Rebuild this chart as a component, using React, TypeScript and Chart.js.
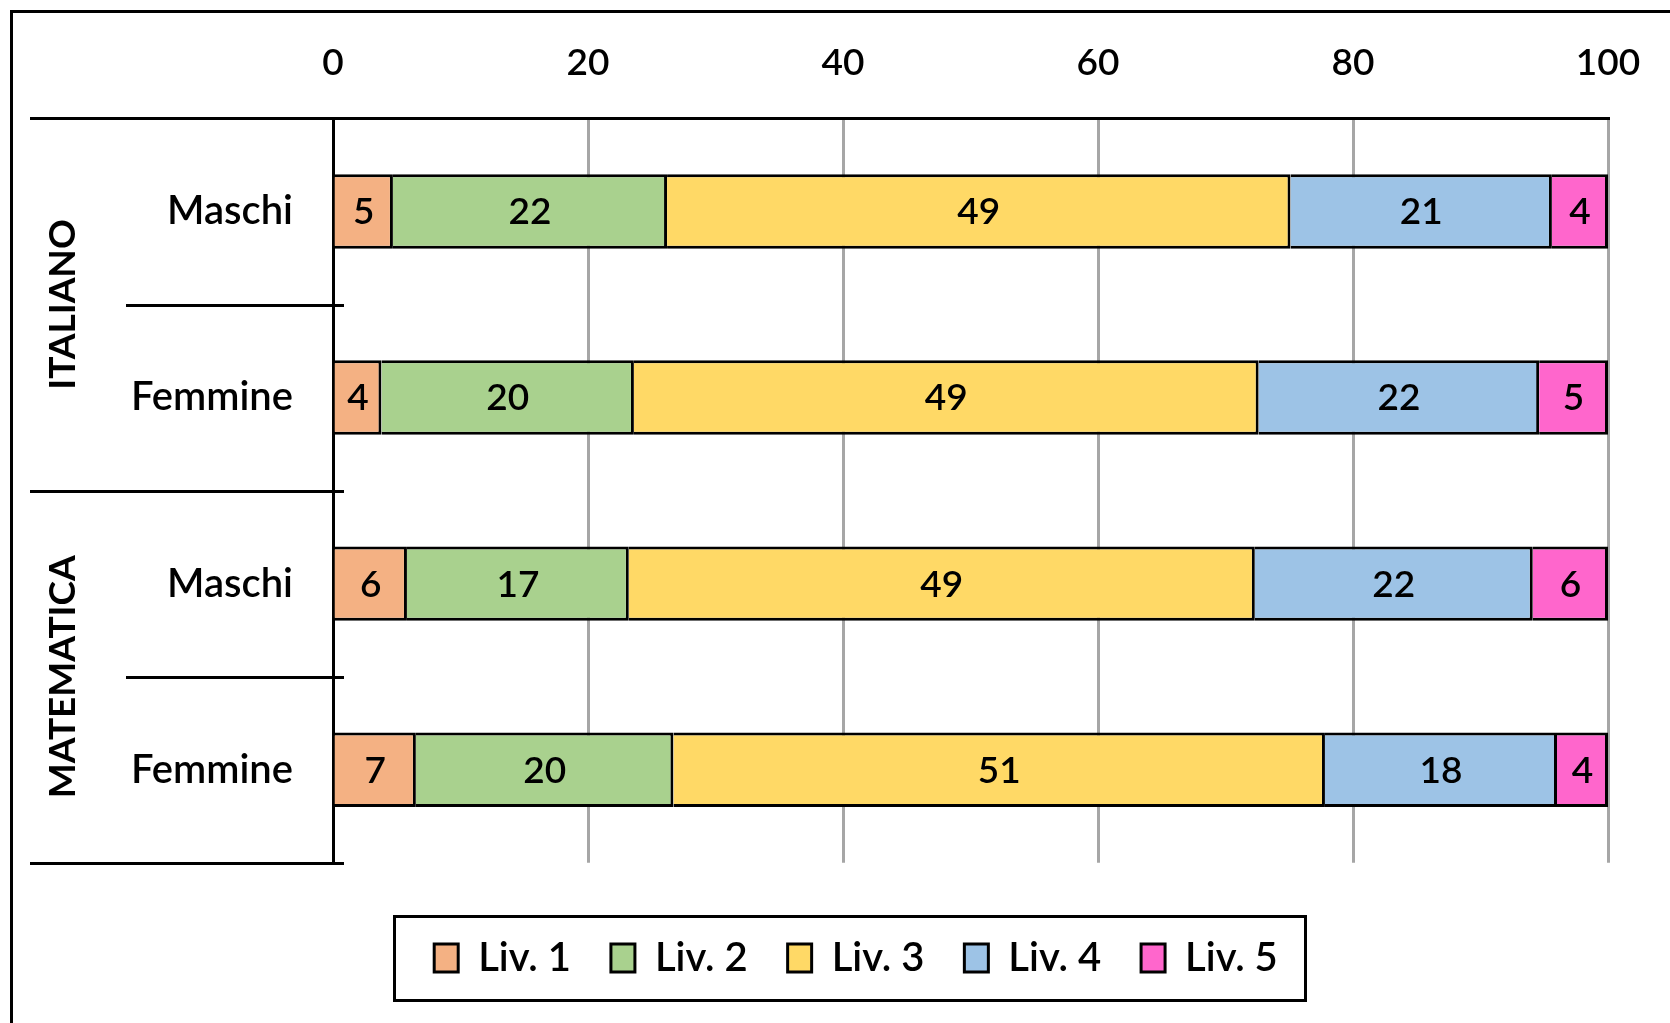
import React, { useEffect, useRef } from 'react';
import { Chart, registerables } from 'chart.js';

Chart.register(...registerables);

// ---- data ----
const categories = ['Maschi', 'Femmine', 'Maschi', 'Femmine'];
const groups = ['ITALIANO', 'MATEMATICA'];
const groupSizes = [2, 2];
const levels = ['Liv. 1', 'Liv. 2', 'Liv. 3', 'Liv. 4', 'Liv. 5'];
const liv1 = [4.7, 3.8, 5.8, 6.5];
const liv2 = [21.5, 19.8, 17.4, 20.2];
const liv3 = [48.9, 49.0, 49.1, 51.1];
const liv4 = [20.5, 22.0, 21.8, 18.2];
const liv5 = [4.4, 5.4, 5.9, 4.0];
const levelColors = ['#F4B183', '#A9D18E', '#FFD966', '#9DC3E6', '#FF66CC'];
const xMin = 0;
const xMax = 100;
const xStep = 20;

const FONT = 'Lato, "Open Sans", sans-serif';
const WEIGHT = 600;
const W = 1670;
const H = 1023;

const decorPlugin = {
  id: 'decor',
  beforeDraw(chart: any) {
    const ctx = chart.ctx;
    ctx.save();
    ctx.fillStyle = '#ffffff';
    ctx.fillRect(0, 0, chart.width, chart.height);
    ctx.restore();
  },
  afterDatasetsDraw(chart: any) {
    const ctx = chart.ctx;
    ctx.save();
    ctx.font = `${WEIGHT} 37px ${FONT}`;
    ctx.fillStyle = '#000';
    ctx.textAlign = 'center';
    ctx.textBaseline = 'middle';
    chart.data.datasets.forEach((ds: any, di: number) => {
      const meta = chart.getDatasetMeta(di);
      meta.data.forEach((bar: any, i: number) => {
        const v = ds.data[i] as number;
        const cx = (bar.x + bar.base) / 2;
        ctx.fillText(String(Math.round(v)), cx, bar.y + 1);
      });
    });
    ctx.restore();
  },
  afterDraw(chart: any) {
    const ctx = chart.ctx;
    const ca = chart.chartArea;
    const y = chart.scales.y;
    ctx.save();
    ctx.strokeStyle = '#000';
    ctx.lineWidth = 3;
    // outer frame (cropped)
    ctx.beginPath();
    ctx.moveTo(11.5, chart.height);
    ctx.lineTo(11.5, 11.5);
    ctx.lineTo(chart.width, 11.5);
    ctx.stroke();

    // category separators
    const n = categories.length;
    const step = y.getPixelForValue(1) - y.getPixelForValue(0);
    const bounds: number[] = [];
    let acc = 0;
    const groupBounds = new Set<number>([0]);
    groupSizes.forEach((s) => { acc += s; groupBounds.add(acc); });
    for (let i = 0; i <= n; i++) {
      const py = y.getPixelForValue(0) - step / 2 + i * step;
      bounds.push(py);
      const isGroup = groupBounds.has(i);
      const xs = isGroup ? 30 : 126;
      const xe = i === 0 ? ca.left : ca.left + 11;
      ctx.beginPath();
      ctx.moveTo(xs, Math.round(py) + 0.5);
      ctx.lineTo(xe, Math.round(py) + 0.5);
      ctx.stroke();
    }

    // group labels (rotated)
    ctx.fillStyle = '#000';
    ctx.font = `bold 37px ${FONT}`;
    ctx.textAlign = 'center';
    ctx.textBaseline = 'middle';
    let start = 0;
    groups.forEach((g, gi) => {
      const top = bounds[start];
      const bottom = bounds[start + groupSizes[gi]];
      const cy = (top + bottom) / 2;
      ctx.save();
      ctx.translate(63, cy);
      ctx.rotate(-Math.PI / 2);
      ctx.fillText(g, 0, 0);
      ctx.restore();
      start += groupSizes[gi];
    });

    // legend frame
    const hb = chart.legend && chart.legend.legendHitBoxes;
    if (hb && hb.length) {
      const first = hb[0];
      const last = hb[hb.length - 1];
      const cy = first.top + first.height / 2;
      const lx = first.left - 40;
      const rx = last.left + last.width + 27;
      ctx.strokeRect(Math.round(lx) + 0.5, Math.round(cy - 42) + 0.5, Math.round(rx - lx), 84);
    }
    ctx.restore();
  },
};

export default function App() {
  const ref = useRef<HTMLCanvasElement | null>(null);
  useEffect(() => {
    if (!ref.current) return;
    const series = [liv1, liv2, liv3, liv4, liv5];
    const chart = new Chart(ref.current, {
      type: 'bar',
      data: {
        labels: categories,
        datasets: series.map((d, i) => ({
          label: levels[i],
          data: d,
          backgroundColor: levelColors[i],
          borderColor: '#000',
          borderWidth: 3,
          borderSkipped: 'start',
          barPercentage: 0.4,
          categoryPercentage: 1,
        })),
      },
      options: {
        indexAxis: 'y',
        responsive: false,
        animation: false,
        events: [],
        layout: { padding: { left: 104, right: 62, top: 8, bottom: 35 } },
        scales: {
          x: {
            position: 'top',
            stacked: true,
            min: xMin,
            max: xMax,
            ticks: {
              stepSize: xStep,
              color: '#000',
              font: { family: FONT, size: 37, weight: WEIGHT },
              padding: 33,
            },
            grid: { color: '#A6A6A6', lineWidth: 3, drawTicks: false },
            border: { display: true, color: '#000', width: 3 },
            afterFit: (scale: any) => {
              scale.paddingLeft = 0;
              scale.paddingRight = 0;
            },
          },
          y: {
            stacked: true,
            z: 1,
            ticks: {
              color: '#000',
              font: { family: FONT, size: 40, weight: WEIGHT },
              padding: 32,
            },
            grid: { display: false },
            border: { display: true, color: '#000', width: 3 },
            afterFit: (scale: any) => {
              scale.width = 333 - 104;
            },
          },
        },
        plugins: {
          tooltip: { enabled: false },
          legend: {
            position: 'bottom',
            title: { display: true, text: '', font: { size: 1 }, padding: { top: 34, bottom: 0 } },
            labels: {
              color: '#000',
              font: { family: FONT, size: 40, weight: WEIGHT },
              boxWidth: 24,
              boxHeight: 28,
              padding: 40,
            },
          },
        },
      },
      plugins: [decorPlugin],
    } as any);
    return () => chart.destroy();
  }, []);
  return (
    <div style={{ position: 'fixed', left: 0, top: 0, width: W, height: H, background: '#fff' }}>
      <canvas ref={ref} width={W} height={H} style={{ display: 'block', width: W, height: H }} />
    </div>
  );
}
